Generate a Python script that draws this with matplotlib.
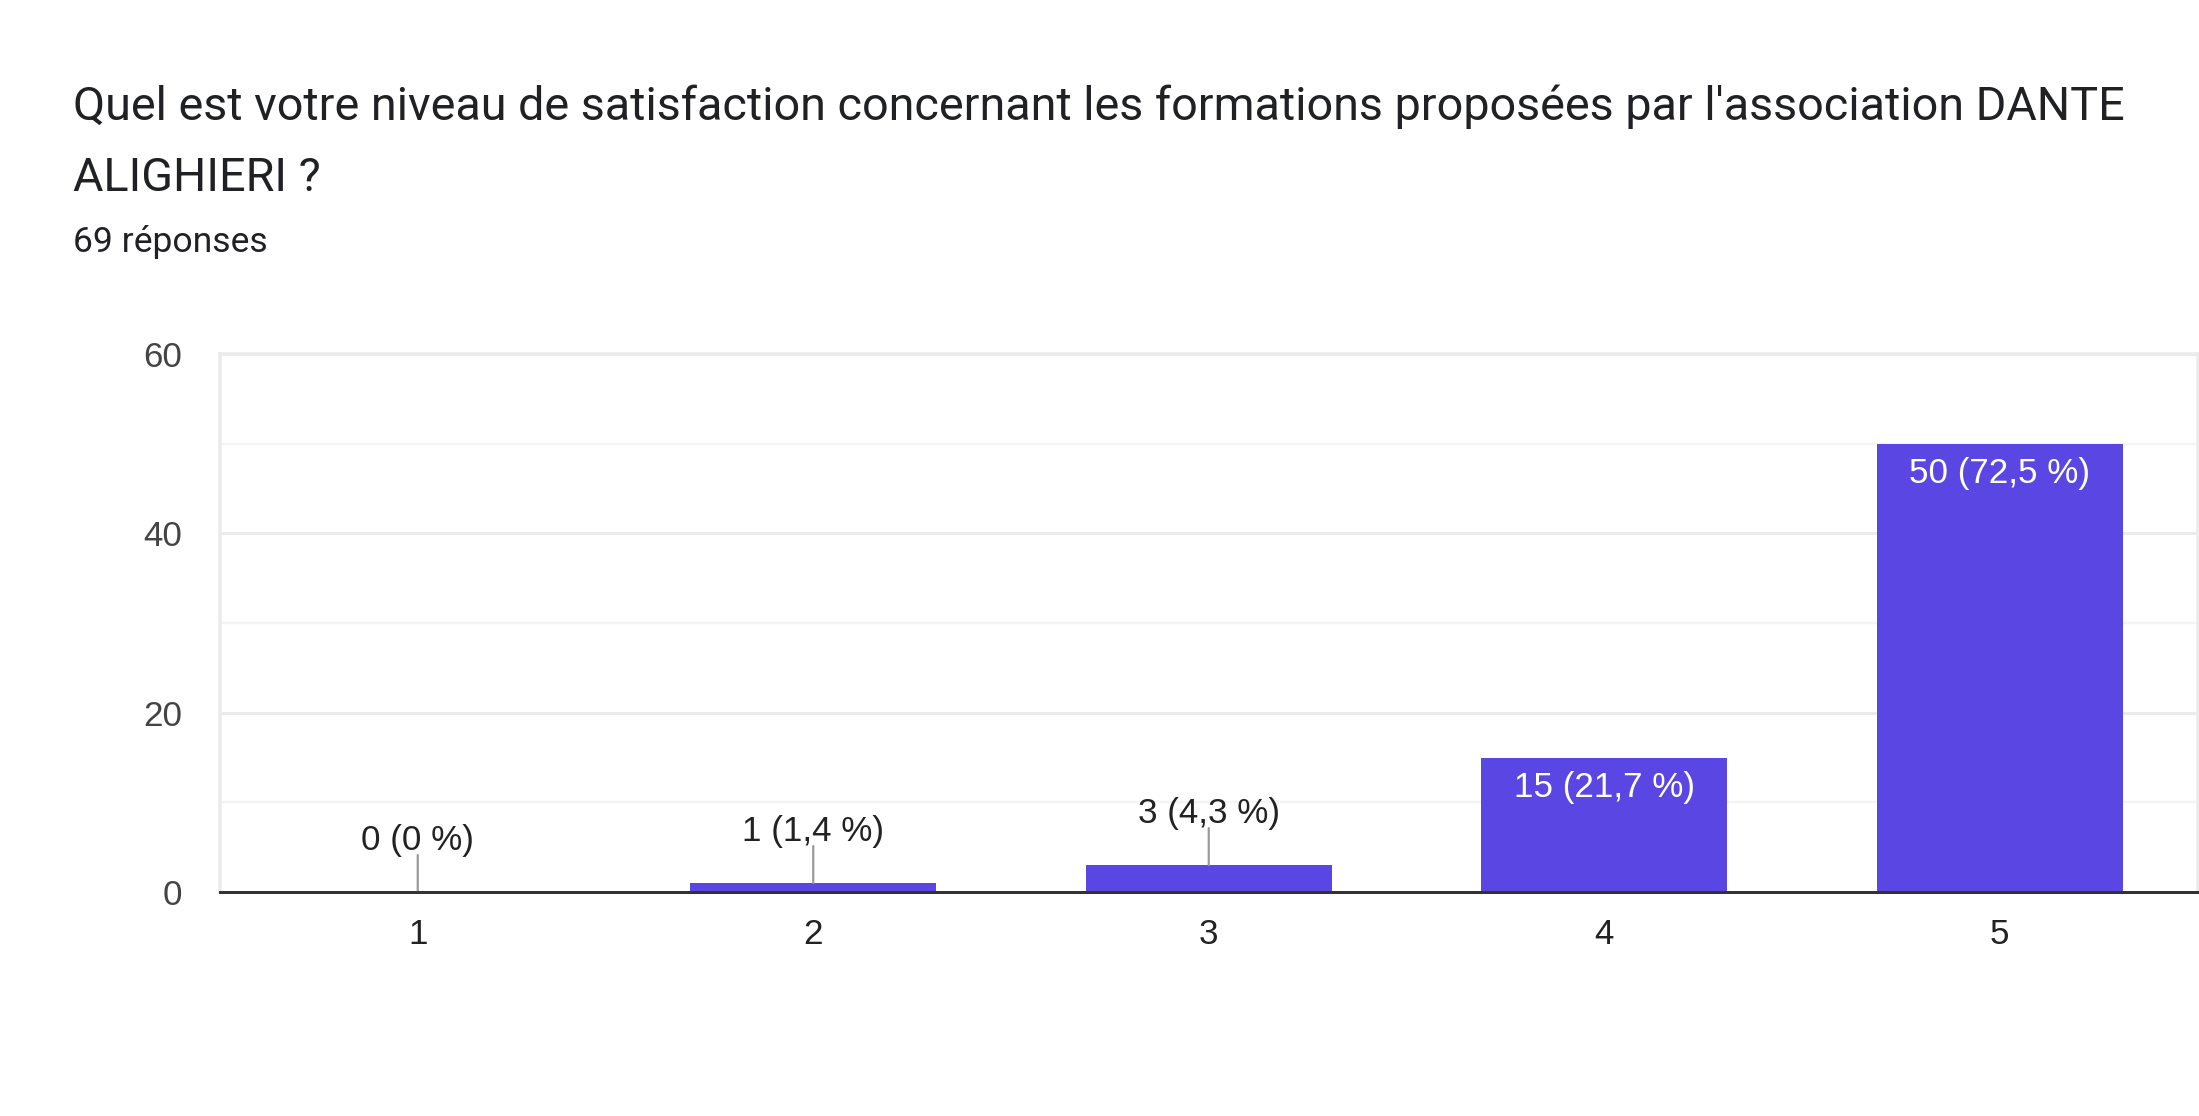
import matplotlib
matplotlib.use("Agg")
import matplotlib.pyplot as plt
from matplotlib.ticker import MultipleLocator

# ---- data ----
categories = ["1", "2", "3", "4", "5"]
counts = [0, 1, 3, 15, 50]
percent_labels = ["0 %", "1,4 %", "4,3 %", "21,7 %", "72,5 %"]
title_line1 = "Quel est votre niveau de satisfaction concernant les formations proposées par l'association DANTE"
title_line2 = "ALIGHIERI ?"
subtitle = "69 réponses"
y_ticks = [0, 20, 40, 60]

W, H, DPI = 2199, 1116, 100
PT = 72.0 / DPI  # points per pixel

fig = plt.figure(figsize=(W / DPI, H / DPI), dpi=DPI)
fig.patch.set_facecolor("white")

def fx(px):
    return px / W

def fy(py):
    return 1 - py / H

# Title and subtitle
fig.text(fx(73), fy(120), title_line1, fontfamily="Roboto", fontsize=46.8 * PT,
         color="#202124", va="baseline", ha="left")
fig.text(fx(73), fy(191), title_line2, fontfamily="Roboto", fontsize=46.8 * PT,
         color="#202124", va="baseline", ha="left")
fig.text(fx(73), fy(252), subtitle, fontfamily="Roboto", fontsize=35.5 * PT,
         color="#202124", va="baseline", ha="left")

ax_left, ax_right = 220, 2197.5
ax_top, ax_bottom = 354, 892
ax = fig.add_axes([fx(ax_left), fy(ax_bottom), (ax_right - ax_left) / W, (ax_bottom - ax_top) / H])

x = list(range(1, len(categories) + 1))
bar_color = "#5a47e3"
ax.bar(x, counts, width=0.622, color=bar_color, zorder=3)

ax.set_xlim(0.5, len(categories) + 0.5)
ax.set_ylim(0, 60)
ax.set_yticks(y_ticks)
ax.yaxis.set_minor_locator(MultipleLocator(10))
ax.set_xticks(x)
ax.set_xticklabels(categories)

ax.grid(axis="y", which="major", color="#ebebeb", linewidth=3 * PT, zorder=0)
ax.grid(axis="y", which="minor", color="#f4f4f4", linewidth=2.5 * PT, zorder=0)
ax.set_axisbelow(True)

for s in ["left", "top", "right"]:
    ax.spines[s].set_color("#ebebeb")
    ax.spines[s].set_linewidth(3.5 * PT)
ax.spines["bottom"].set_visible(False)
ax.axhline(0, color="#333333", linewidth=3 * PT, zorder=5, clip_on=False)

ax.tick_params(axis="both", which="both", length=0)
ax.tick_params(axis="y", pad=38 * PT, labelsize=35 * PT, labelcolor="#444444")
ax.tick_params(axis="x", pad=26 * PT, labelsize=35 * PT, labelcolor="#222222")
for lab in ax.get_xticklabels() + ax.get_yticklabels():
    lab.set_fontfamily("Liberation Sans")

# Value labels
for xi, c, p in zip(x, counts, percent_labels):
    label = f"{c} ({p})"
    if c < 10:
        ax.annotate("", xy=(xi, c), xytext=(0, 37 * PT), textcoords="offset points",
                    arrowprops=dict(arrowstyle="-", color="#999999", lw=2.2 * PT,
                                    shrinkA=0, shrinkB=0), zorder=4)
        ax.annotate(label, xy=(xi, c), xytext=(0, 42 * PT), textcoords="offset points",
                    ha="center", va="baseline", fontsize=35 * PT, color="#222222",
                    fontfamily="Liberation Sans", zorder=6)
    else:
        ax.annotate(label, xy=(xi, c), xytext=(0, -30 * PT), textcoords="offset points",
                    ha="center", va="center", fontsize=35 * PT, color="white",
                    fontfamily="Liberation Sans", zorder=6)

fig.savefig("out.png", dpi=DPI, facecolor="white")
